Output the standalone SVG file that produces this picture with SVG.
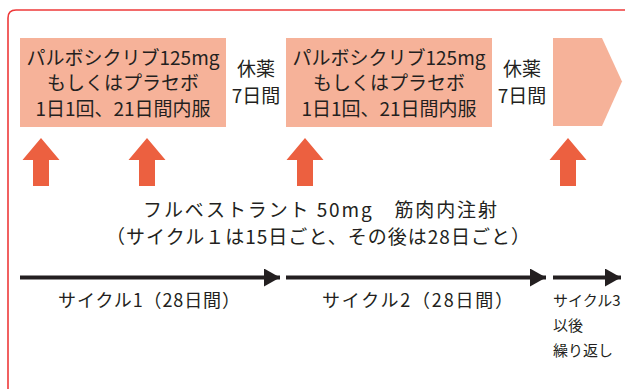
<svg xmlns="http://www.w3.org/2000/svg" width="625" height="389" viewBox="0 0 625 389">
<style>
text{font-family:"Noto Sans CJK JP","Noto Sans",sans-serif;fill:#231f20;}
.box{fill:#f6b299;}
.up{fill:#ec6040;}
.t19{font-size:19px;text-anchor:middle;}
.t18{font-size:19px;}
.t17{font-size:18px;}
.t15{font-size:15px;}
.h{stroke:#231f20;stroke-width:4;fill:none;}
</style>
<defs>
<marker id="ah" viewBox="0 0 16 18" refX="16" refY="9" markerWidth="16" markerHeight="18" markerUnits="userSpaceOnUse" orient="auto">
<path d="M0,0 L16,9 L0,18 Z" fill="#231f20"/>
</marker>
<path id="uparrow" d="M0,0 L18.5,22 L8,22 L8,48 L-8,48 L-8,22 L-18.5,22 Z"/>
</defs>
<path d="M8,389 L8,18 Q8,10 16,10 L625,10" fill="none" stroke="#ee3a3a" stroke-width="1.6"/>
<g id="box1">
<rect class="box" x="20" y="38" width="206" height="89"/>
<text class="t19" x="123" y="65">パルボシクリブ125mg</text>
<text class="t19" x="123" y="90">もしくはプラセボ</text>
<text class="t19" x="123" y="116">1日1回、21日間内服</text>
</g>
<g id="rest1">
<text class="t19" x="256" y="76">休薬</text>
<text class="t19" x="256" y="103">7日間</text>
</g>
<g id="box2">
<rect class="box" x="286" y="38" width="206" height="89"/>
<text class="t19" x="389" y="65">パルボシクリブ125mg</text>
<text class="t19" x="389" y="90">もしくはプラセボ</text>
<text class="t19" x="389" y="116">1日1回、21日間内服</text>
</g>
<g id="rest2">
<text class="t19" x="522" y="76">休薬</text>
<text class="t19" x="522" y="103">7日間</text>
</g>
<g id="box3">
<path class="box" d="M553,38 L602,38 L622,81.5 L602,126 L553,126 Z"/>
</g>
<g id="injections" class="up">
<use href="#uparrow" x="41" y="138"/>
<use href="#uparrow" x="147" y="138"/>
<use href="#uparrow" x="305" y="138"/>
<use href="#uparrow" x="568" y="138"/>
</g>
<g id="fulvestrant">
<text class="t18" x="143" y="217" textLength="354" lengthAdjust="spacing">フルベストラント 50mg　筋肉内注射</text>
<text class="t18" x="106" y="244" textLength="424" lengthAdjust="spacing">（サイクル１は15日ごと、その後は28日ごと）</text>
</g>
<g id="connectors">
<line class="h" x1="20" y1="277.5" x2="280" y2="277.5" marker-end="url(#ah)"/>
<line class="h" x1="286" y1="277.5" x2="546" y2="277.5" marker-end="url(#ah)"/>
<line class="h" x1="553" y1="277.5" x2="621" y2="277.5" marker-end="url(#ah)"/>
</g>
<g id="cycle1"><text class="t17" x="58" y="307" textLength="182" lengthAdjust="spacing">サイクル1（28日間）</text></g>
<g id="cycle2"><text class="t17" x="322" y="307" textLength="191" lengthAdjust="spacing">サイクル2（28日間）</text></g>
<g id="cycle3">
<text class="t15" x="553" y="306">サイクル3</text>
<text class="t15" x="553" y="331">以後</text>
<text class="t15" x="553" y="356">繰り返し</text>
</g>
</svg>
